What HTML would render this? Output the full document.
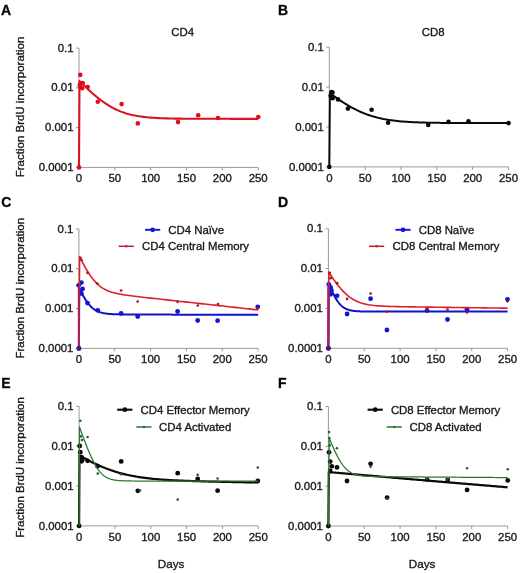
<!DOCTYPE html>
<html><head><meta charset="utf-8"><style>
html,body{margin:0;padding:0;background:#fff;}
svg{display:block;filter:blur(0.3px);}
text{stroke:#222;stroke-width:0.35px;}
</style></head><body>
<svg width="520" height="573" viewBox="0 0 520 573" font-family="&quot;Liberation Sans&quot;, sans-serif" font-size="11.4" fill="#151515">
<path d="M79 48.1V167.4H258.2" stroke="#9a9a9a" stroke-width="1" fill="none"/>
<path d="M76 167.4H79M76 127.63H79M76 87.87H79M76 48.1H79M114.84 167.4V170.4M150.68 167.4V170.4M186.52 167.4V170.4M222.36 167.4V170.4M258.2 167.4V170.4" stroke="#9a9a9a" stroke-width="1" fill="none"/>
<text x="73.5" y="171" text-anchor="end">0.0001</text>
<text x="73.5" y="131.23" text-anchor="end">0.001</text>
<text x="73.5" y="91.47" text-anchor="end">0.01</text>
<text x="73.5" y="51.7" text-anchor="end">0.1</text>
<text x="79" y="182.1" text-anchor="middle">0</text>
<text x="114.84" y="182.1" text-anchor="middle">50</text>
<text x="150.68" y="182.1" text-anchor="middle">100</text>
<text x="186.52" y="182.1" text-anchor="middle">150</text>
<text x="222.36" y="182.1" text-anchor="middle">200</text>
<text x="258.2" y="182.1" text-anchor="middle">250</text>
<path d="M329.3 47.2V166.9H508.5" stroke="#9a9a9a" stroke-width="1" fill="none"/>
<path d="M326.3 166.9H329.3M326.3 127H329.3M326.3 87.1H329.3M326.3 47.2H329.3M365.14 166.9V169.9M400.98 166.9V169.9M436.82 166.9V169.9M472.66 166.9V169.9M508.5 166.9V169.9" stroke="#9a9a9a" stroke-width="1" fill="none"/>
<text x="323.8" y="170.5" text-anchor="end">0.0001</text>
<text x="323.8" y="130.6" text-anchor="end">0.001</text>
<text x="323.8" y="90.7" text-anchor="end">0.01</text>
<text x="323.8" y="50.8" text-anchor="end">0.1</text>
<text x="329.3" y="181.6" text-anchor="middle">0</text>
<text x="365.14" y="181.6" text-anchor="middle">50</text>
<text x="400.98" y="181.6" text-anchor="middle">100</text>
<text x="436.82" y="181.6" text-anchor="middle">150</text>
<text x="472.66" y="181.6" text-anchor="middle">200</text>
<text x="508.5" y="181.6" text-anchor="middle">250</text>
<path d="M78.9 228.9V348.4H258.1" stroke="#9a9a9a" stroke-width="1" fill="none"/>
<path d="M75.9 348.4H78.9M75.9 308.57H78.9M75.9 268.73H78.9M75.9 228.9H78.9M114.74 348.4V351.4M150.58 348.4V351.4M186.42 348.4V351.4M222.26 348.4V351.4M258.1 348.4V351.4" stroke="#9a9a9a" stroke-width="1" fill="none"/>
<text x="73.4" y="352" text-anchor="end">0.0001</text>
<text x="73.4" y="312.17" text-anchor="end">0.001</text>
<text x="73.4" y="272.33" text-anchor="end">0.01</text>
<text x="73.4" y="232.5" text-anchor="end">0.1</text>
<text x="78.9" y="363.1" text-anchor="middle">0</text>
<text x="114.74" y="363.1" text-anchor="middle">50</text>
<text x="150.58" y="363.1" text-anchor="middle">100</text>
<text x="186.42" y="363.1" text-anchor="middle">150</text>
<text x="222.26" y="363.1" text-anchor="middle">200</text>
<text x="258.1" y="363.1" text-anchor="middle">250</text>
<path d="M328.4 228.8V348.3H507.6" stroke="#9a9a9a" stroke-width="1" fill="none"/>
<path d="M325.4 348.3H328.4M325.4 308.47H328.4M325.4 268.63H328.4M325.4 228.8H328.4M364.24 348.3V351.3M400.08 348.3V351.3M435.92 348.3V351.3M471.76 348.3V351.3M507.6 348.3V351.3" stroke="#9a9a9a" stroke-width="1" fill="none"/>
<text x="322.9" y="351.9" text-anchor="end">0.0001</text>
<text x="322.9" y="312.07" text-anchor="end">0.001</text>
<text x="322.9" y="272.23" text-anchor="end">0.01</text>
<text x="322.9" y="232.4" text-anchor="end">0.1</text>
<text x="328.4" y="363" text-anchor="middle">0</text>
<text x="364.24" y="363" text-anchor="middle">50</text>
<text x="400.08" y="363" text-anchor="middle">100</text>
<text x="435.92" y="363" text-anchor="middle">150</text>
<text x="471.76" y="363" text-anchor="middle">200</text>
<text x="507.6" y="363" text-anchor="middle">250</text>
<path d="M79.1 406.4V525.9H258.3" stroke="#9a9a9a" stroke-width="1" fill="none"/>
<path d="M76.1 525.9H79.1M76.1 486.07H79.1M76.1 446.23H79.1M76.1 406.4H79.1M114.94 525.9V528.9M150.78 525.9V528.9M186.62 525.9V528.9M222.46 525.9V528.9M258.3 525.9V528.9" stroke="#9a9a9a" stroke-width="1" fill="none"/>
<text x="73.6" y="529.5" text-anchor="end">0.0001</text>
<text x="73.6" y="489.67" text-anchor="end">0.001</text>
<text x="73.6" y="449.83" text-anchor="end">0.01</text>
<text x="73.6" y="410" text-anchor="end">0.1</text>
<text x="79.1" y="540.6" text-anchor="middle">0</text>
<text x="114.94" y="540.6" text-anchor="middle">50</text>
<text x="150.78" y="540.6" text-anchor="middle">100</text>
<text x="186.62" y="540.6" text-anchor="middle">150</text>
<text x="222.46" y="540.6" text-anchor="middle">200</text>
<text x="258.3" y="540.6" text-anchor="middle">250</text>
<path d="M328.4 406.5V526H507.6" stroke="#9a9a9a" stroke-width="1" fill="none"/>
<path d="M325.4 526H328.4M325.4 486.17H328.4M325.4 446.33H328.4M325.4 406.5H328.4M364.24 526V529M400.08 526V529M435.92 526V529M471.76 526V529M507.6 526V529" stroke="#9a9a9a" stroke-width="1" fill="none"/>
<text x="322.9" y="529.6" text-anchor="end">0.0001</text>
<text x="322.9" y="489.77" text-anchor="end">0.001</text>
<text x="322.9" y="449.93" text-anchor="end">0.01</text>
<text x="322.9" y="410.1" text-anchor="end">0.1</text>
<text x="328.4" y="540.7" text-anchor="middle">0</text>
<text x="364.24" y="540.7" text-anchor="middle">50</text>
<text x="400.08" y="540.7" text-anchor="middle">100</text>
<text x="435.92" y="540.7" text-anchor="middle">150</text>
<text x="471.76" y="540.7" text-anchor="middle">200</text>
<text x="507.6" y="540.7" text-anchor="middle">250</text>
<text x="1" y="15" font-size="14" font-weight="bold" fill="#000">A</text>
<text x="278.1" y="15" font-size="14" font-weight="bold" fill="#000">B</text>
<text x="1.2" y="207.2" font-size="14" font-weight="bold" fill="#000">C</text>
<text x="278.1" y="207" font-size="14" font-weight="bold" fill="#000">D</text>
<text x="1.2" y="388.1" font-size="14" font-weight="bold" fill="#000">E</text>
<text x="278.1" y="388" font-size="14" font-weight="bold" fill="#000">F</text>
<text x="182.7" y="35.9" text-anchor="middle">CD4</text>
<text x="433.1" y="35.9" text-anchor="middle">CD8</text>
<text transform="translate(23.95 106.95) rotate(-90)" text-anchor="middle" font-size="11.5">Fraction BrdU incorporation</text>
<text transform="translate(23.95 288.2) rotate(-90)" text-anchor="middle" font-size="11.5">Fraction BrdU incorporation</text>
<text transform="translate(23.95 467.45) rotate(-90)" text-anchor="middle" font-size="11.5">Fraction BrdU incorporation</text>
<text x="171.1" y="568.3" text-anchor="middle" font-size="11.7">Days</text>
<text x="422.1" y="568.3" text-anchor="middle" font-size="11.7">Days</text>
<path d="M79 167.4 L79.5 80.94 L80 81.45 L80.5 81.95 L81 82.45 L81.5 82.95 L82 83.44 L82.5 83.94 L83 84.43 L83.5 84.92 L84 85.41 L84.5 85.89 L85 86.38 L85.5 86.86 L86 87.33 L86.5 87.81 L87 88.28 L87.5 88.75 L88 89.22 L88.5 89.68 L89 90.15 L89.5 90.61 L90 91.06 L90.5 91.51 L91 91.96 L91.5 92.41 L92 92.86 L92.5 93.3 L93 93.73 L93.5 94.17 L94 94.6 L94.5 95.02 L95 95.45 L95.5 95.87 L96 96.28 L96.5 96.7 L97 97.1 L97.5 97.51 L98 97.91 L98.5 98.31 L99 98.7 L99.5 99.09 L100 99.48 L100.5 99.86 L101 100.23 L101.5 100.61 L102 100.97 L102.5 101.34 L103 101.7 L103.5 102.05 L104 102.4 L104.5 102.75 L105 103.09 L105.5 103.43 L106 103.76 L106.5 104.09 L107 104.42 L107.5 104.74 L108 105.05 L108.5 105.36 L109 105.67 L109.5 105.97 L110 106.26 L110.5 106.55 L111 106.84 L111.5 107.12 L112 107.4 L112.5 107.67 L113 107.94 L113.5 108.21 L114 108.46 L114.5 108.72 L115 108.97 L115.5 109.21 L116 109.45 L116.5 109.69 L117 109.92 L117.5 110.15 L118 110.37 L118.5 110.59 L119 110.8 L121 111.61 L123 112.36 L125 113.03 L127 113.65 L129 114.21 L131 114.72 L133 115.18 L135 115.59 L137 115.96 L139 116.29 L141 116.58 L143 116.84 L145 117.08 L147 117.28 L149 117.47 L151 117.63 L153 117.77 L155 117.9 L157 118.01 L159 118.11 L161 118.2 L163 118.28 L165 118.34 L167 118.4 L169 118.46 L171 118.5 L173 118.54 L175 118.58 L177 118.61 L179 118.64 L181 118.66 L183 118.68 L185 118.7 L187 118.72 L189 118.73 L191 118.74 L193 118.75 L195 118.76 L197 118.77 L199 118.78 L201 118.79 L203 118.79 L205 118.8 L207 118.8 L209 118.8 L211 118.81 L213 118.81 L215 118.81 L217 118.82 L219 118.82 L221 118.82 L223 118.82 L225 118.82 L227 118.82 L229 118.82 L231 118.83 L233 118.83 L235 118.83 L237 118.83 L239 118.83 L241 118.83 L243 118.83 L245 118.83 L247 118.83 L249 118.83 L251 118.83 L253 118.83 L255 118.83 L257 118.83 L258.2 118.83" stroke="#d81422" stroke-width="2.1" fill="none" stroke-linejoin="round"/>
<circle cx="79" cy="167.4" r="2.3" fill="#e50b1b"/>
<circle cx="80.3" cy="74.9" r="2.3" fill="#e50b1b"/>
<circle cx="79.8" cy="84.7" r="2.3" fill="#e50b1b"/>
<circle cx="82.7" cy="83" r="2.3" fill="#e50b1b"/>
<circle cx="82.1" cy="88.2" r="2.3" fill="#e50b1b"/>
<circle cx="80" cy="86.5" r="2.3" fill="#e50b1b"/>
<circle cx="87.7" cy="87" r="2.3" fill="#e50b1b"/>
<circle cx="97.8" cy="101.8" r="2.3" fill="#e50b1b"/>
<circle cx="121.6" cy="104.1" r="2.3" fill="#e50b1b"/>
<circle cx="137.8" cy="123.4" r="2.3" fill="#e50b1b"/>
<circle cx="178" cy="122.1" r="2.3" fill="#e50b1b"/>
<circle cx="198.2" cy="115.3" r="2.3" fill="#e50b1b"/>
<circle cx="218" cy="118" r="2.3" fill="#e50b1b"/>
<circle cx="258.3" cy="117" r="2.3" fill="#e50b1b"/>
<path d="M329.3 166.9 L329.9 93.01 L330.4 93.39 L330.9 93.77 L331.4 94.14 L331.9 94.52 L332.4 94.89 L332.9 95.26 L333.4 95.63 L333.9 96 L334.4 96.36 L334.9 96.72 L335.4 97.08 L335.9 97.44 L336.4 97.8 L336.9 98.15 L337.4 98.5 L337.9 98.85 L338.4 99.2 L338.9 99.54 L339.4 99.88 L339.9 100.22 L340.4 100.56 L340.9 100.89 L341.4 101.23 L341.9 101.56 L342.4 101.88 L342.9 102.21 L343.4 102.53 L343.9 102.85 L344.4 103.17 L344.9 103.48 L345.4 103.79 L345.9 104.1 L346.4 104.41 L346.9 104.71 L347.4 105.01 L347.9 105.31 L348.4 105.61 L348.9 105.9 L349.4 106.19 L349.9 106.47 L350.4 106.76 L350.9 107.04 L351.4 107.32 L351.9 107.59 L352.4 107.86 L352.9 108.13 L353.4 108.4 L353.9 108.66 L354.4 108.92 L354.9 109.18 L355.4 109.43 L355.9 109.68 L356.4 109.93 L356.9 110.17 L357.4 110.41 L357.9 110.65 L358.4 110.89 L358.9 111.12 L359.4 111.35 L359.9 111.58 L360.4 111.8 L360.9 112.02 L361.4 112.24 L361.9 112.45 L362.4 112.66 L362.9 112.87 L363.4 113.07 L363.9 113.27 L364.4 113.47 L364.9 113.67 L365.4 113.86 L365.9 114.05 L366.4 114.24 L366.9 114.42 L367.4 114.6 L367.9 114.78 L368.4 114.95 L368.9 115.13 L369.3 115.26 L371.3 115.91 L373.3 116.52 L375.3 117.08 L377.3 117.6 L379.3 118.09 L381.3 118.53 L383.3 118.95 L385.3 119.32 L387.3 119.67 L389.3 119.99 L391.3 120.28 L393.3 120.55 L395.3 120.79 L397.3 121.01 L399.3 121.21 L401.3 121.39 L403.3 121.56 L405.3 121.71 L407.3 121.84 L409.3 121.97 L411.3 122.08 L413.3 122.18 L415.3 122.27 L417.3 122.35 L419.3 122.43 L421.3 122.5 L423.3 122.56 L425.3 122.61 L427.3 122.66 L429.3 122.7 L431.3 122.74 L433.3 122.78 L435.3 122.81 L437.3 122.84 L439.3 122.87 L441.3 122.89 L443.3 122.91 L445.3 122.93 L447.3 122.95 L449.3 122.96 L451.3 122.98 L453.3 122.99 L455.3 123 L457.3 123.01 L459.3 123.02 L461.3 123.03 L463.3 123.04 L465.3 123.04 L467.3 123.05 L469.3 123.06 L471.3 123.06 L473.3 123.06 L475.3 123.07 L477.3 123.07 L479.3 123.08 L481.3 123.08 L483.3 123.08 L485.3 123.08 L487.3 123.08 L489.3 123.09 L491.3 123.09 L493.3 123.09 L495.3 123.09 L497.3 123.09 L499.3 123.09 L501.3 123.09 L503.3 123.1 L505.3 123.1 L507.3 123.1 L508.5 123.1" stroke="#0a0a0a" stroke-width="2" fill="none" stroke-linejoin="round"/>
<circle cx="329.3" cy="166.9" r="2.3" fill="#0a0a0a"/>
<circle cx="331.5" cy="92" r="2.3" fill="#0a0a0a"/>
<circle cx="330.6" cy="95.8" r="2.3" fill="#0a0a0a"/>
<circle cx="332.5" cy="92.5" r="2.3" fill="#0a0a0a"/>
<circle cx="332.6" cy="98.3" r="2.3" fill="#0a0a0a"/>
<circle cx="338" cy="99.4" r="2.3" fill="#0a0a0a"/>
<circle cx="347.9" cy="108.6" r="2.3" fill="#0a0a0a"/>
<circle cx="371.6" cy="109.7" r="2.3" fill="#0a0a0a"/>
<circle cx="388.1" cy="122.8" r="2.3" fill="#0a0a0a"/>
<circle cx="428.2" cy="124.9" r="2.3" fill="#0a0a0a"/>
<circle cx="448.5" cy="121.9" r="2.3" fill="#0a0a0a"/>
<circle cx="468.5" cy="121.2" r="2.3" fill="#0a0a0a"/>
<circle cx="508.6" cy="123.1" r="2.3" fill="#0a0a0a"/>
<path d="M78.9 348.4 L79.3 288.06 L79.8 289.12 L80.3 290.16 L80.8 291.19 L81.3 292.19 L81.8 293.17 L82.3 294.13 L82.8 295.06 L83.3 295.97 L83.8 296.86 L84.3 297.72 L84.8 298.55 L85.3 299.36 L85.8 300.15 L86.3 300.9 L86.8 301.63 L87.3 302.33 L87.8 303.01 L88.3 303.66 L88.8 304.28 L89.3 304.87 L89.8 305.44 L90.3 305.99 L90.8 306.5 L91.3 306.99 L91.8 307.46 L92.3 307.9 L92.8 308.32 L93.3 308.72 L93.8 309.09 L94.3 309.45 L94.8 309.78 L95.3 310.09 L95.8 310.39 L96.3 310.67 L96.8 310.93 L97.3 311.17 L97.8 311.4 L98.3 311.61 L98.8 311.81 L99.3 312 L99.8 312.18 L100.3 312.34 L100.8 312.49 L101.3 312.63 L101.8 312.77 L102.3 312.89 L102.8 313 L103.3 313.11 L103.8 313.21 L104.3 313.3 L104.8 313.39 L105.3 313.47 L105.8 313.54 L106.3 313.61 L106.8 313.67 L107.3 313.73 L107.8 313.79 L108.3 313.84 L108.8 313.89 L109.3 313.93 L109.8 313.97 L110.3 314.01 L110.8 314.04 L111.3 314.08 L111.8 314.11 L112.3 314.14 L112.8 314.16 L113.3 314.19 L113.8 314.21 L114.3 314.23 L114.8 314.25 L115.3 314.27 L115.8 314.29 L116.3 314.3 L116.8 314.32 L117.3 314.33 L117.8 314.34 L118.3 314.35 L118.8 314.37 L118.9 314.37 L120.9 314.4 L122.9 314.43 L124.9 314.45 L126.9 314.47 L128.9 314.49 L130.9 314.5 L132.9 314.51 L134.9 314.52 L136.9 314.53 L138.9 314.53 L140.9 314.54 L142.9 314.55 L144.9 314.55 L146.9 314.56 L148.9 314.56 L150.9 314.57 L152.9 314.58 L154.9 314.58 L156.9 314.59 L158.9 314.59 L160.9 314.6 L162.9 314.6 L164.9 314.61 L166.9 314.61 L168.9 314.62 L170.9 314.62 L172.9 314.63 L174.9 314.64 L176.9 314.64 L178.9 314.65 L180.9 314.65 L182.9 314.66 L184.9 314.66 L186.9 314.67 L188.9 314.67 L190.9 314.68 L192.9 314.68 L194.9 314.69 L196.9 314.7 L198.9 314.7 L200.9 314.71 L202.9 314.71 L204.9 314.72 L206.9 314.72 L208.9 314.73 L210.9 314.73 L212.9 314.74 L214.9 314.74 L216.9 314.75 L218.9 314.75 L220.9 314.76 L222.9 314.77 L224.9 314.77 L226.9 314.78 L228.9 314.78 L230.9 314.79 L232.9 314.79 L234.9 314.8 L236.9 314.8 L238.9 314.81 L240.9 314.81 L242.9 314.82 L244.9 314.82 L246.9 314.83 L248.9 314.84 L250.9 314.84 L252.9 314.85 L254.9 314.85 L256.9 314.86 L258.1 314.86" stroke="#1212c8" stroke-width="2.0" fill="none" stroke-linejoin="round"/>
<circle cx="78.9" cy="348.4" r="2.4" fill="#1414d6"/>
<circle cx="78.6" cy="285.3" r="2.4" fill="#1414d6"/>
<circle cx="81.4" cy="282.6" r="2.4" fill="#1414d6"/>
<circle cx="82.6" cy="289" r="2.4" fill="#1414d6"/>
<circle cx="81.4" cy="293.6" r="2.4" fill="#1414d6"/>
<circle cx="87.5" cy="303.1" r="2.4" fill="#1414d6"/>
<circle cx="97.7" cy="310.3" r="2.4" fill="#1414d6"/>
<circle cx="121.1" cy="313.4" r="2.4" fill="#1414d6"/>
<circle cx="137.7" cy="316.6" r="2.4" fill="#1414d6"/>
<circle cx="177.6" cy="311.5" r="2.4" fill="#1414d6"/>
<circle cx="197.7" cy="320.5" r="2.4" fill="#1414d6"/>
<circle cx="217.6" cy="320.7" r="2.4" fill="#1414d6"/>
<circle cx="257.7" cy="306.8" r="2.4" fill="#1414d6"/>
<path d="M78.9 348.4 L79.6 256.79 L80.1 257.78 L80.6 258.77 L81.1 259.74 L81.6 260.71 L82.1 261.66 L82.6 262.61 L83.1 263.54 L83.6 264.46 L84.1 265.37 L84.6 266.27 L85.1 267.15 L85.6 268.03 L86.1 268.88 L86.6 269.73 L87.1 270.55 L87.6 271.37 L88.1 272.17 L88.6 272.95 L89.1 273.72 L89.6 274.47 L90.1 275.2 L90.6 275.92 L91.1 276.62 L91.6 277.31 L92.1 277.97 L92.6 278.62 L93.1 279.25 L93.6 279.87 L94.1 280.46 L94.6 281.04 L95.1 281.6 L95.6 282.15 L96.1 282.67 L96.6 283.18 L97.1 283.68 L97.6 284.15 L98.1 284.61 L98.6 285.05 L99.1 285.48 L99.6 285.89 L100.1 286.29 L100.6 286.67 L101.1 287.04 L101.6 287.39 L102.1 287.73 L102.6 288.06 L103.1 288.37 L103.6 288.67 L104.1 288.96 L104.6 289.24 L105.1 289.51 L105.6 289.76 L106.1 290.01 L106.6 290.24 L107.1 290.47 L107.6 290.69 L108.1 290.9 L108.6 291.1 L109.1 291.29 L109.6 291.48 L110.1 291.65 L110.6 291.82 L111.1 291.99 L111.6 292.15 L112.1 292.3 L112.6 292.45 L113.1 292.59 L113.6 292.73 L114.1 292.86 L114.6 292.99 L115.1 293.11 L115.6 293.23 L116.1 293.35 L116.6 293.46 L117.1 293.57 L117.6 293.67 L118.1 293.78 L118.6 293.88 L118.9 293.93 L120.9 294.3 L122.9 294.64 L124.9 294.95 L126.9 295.24 L128.9 295.52 L130.9 295.78 L132.9 296.03 L134.9 296.28 L136.9 296.52 L138.9 296.75 L140.9 296.99 L142.9 297.22 L144.9 297.44 L146.9 297.67 L148.9 297.89 L150.9 298.12 L152.9 298.34 L154.9 298.56 L156.9 298.78 L158.9 299 L160.9 299.23 L162.9 299.45 L164.9 299.67 L166.9 299.89 L168.9 300.11 L170.9 300.33 L172.9 300.55 L174.9 300.77 L176.9 300.99 L178.9 301.21 L180.9 301.43 L182.9 301.65 L184.9 301.87 L186.9 302.09 L188.9 302.31 L190.9 302.53 L192.9 302.75 L194.9 302.97 L196.9 303.19 L198.9 303.41 L200.9 303.63 L202.9 303.85 L204.9 304.07 L206.9 304.29 L208.9 304.51 L210.9 304.73 L212.9 304.95 L214.9 305.17 L216.9 305.39 L218.9 305.61 L220.9 305.83 L222.9 306.05 L224.9 306.27 L226.9 306.49 L228.9 306.71 L230.9 306.93 L232.9 307.15 L234.9 307.37 L236.9 307.59 L238.9 307.81 L240.9 308.03 L242.9 308.25 L244.9 308.48 L246.9 308.7 L248.9 308.92 L250.9 309.14 L252.9 309.36 L254.9 309.58 L256.9 309.8 L258.1 309.93" stroke="#da2029" stroke-width="1.6" fill="none" stroke-linejoin="round"/>
<circle cx="80.4" cy="257.8" r="1.35" fill="#b01020"/>
<circle cx="81.5" cy="260" r="1.35" fill="#b01020"/>
<circle cx="87.5" cy="272.8" r="1.35" fill="#b01020"/>
<circle cx="97.2" cy="283.5" r="1.35" fill="#b01020"/>
<circle cx="121.1" cy="290.5" r="1.35" fill="#b01020"/>
<circle cx="137.7" cy="301.5" r="1.35" fill="#b01020"/>
<circle cx="177.6" cy="301.8" r="1.35" fill="#b01020"/>
<circle cx="197.8" cy="305.5" r="1.35" fill="#b01020"/>
<circle cx="218" cy="304" r="1.35" fill="#b01020"/>
<circle cx="257.8" cy="308.5" r="1.35" fill="#b01020"/>
<path d="M328.4 348.3 L328.8 283.27 L329.3 284.55 L329.8 285.8 L330.3 287.02 L330.8 288.22 L331.3 289.38 L331.8 290.52 L332.3 291.63 L332.8 292.71 L333.3 293.75 L333.8 294.76 L334.3 295.73 L334.8 296.67 L335.3 297.58 L335.8 298.45 L336.3 299.28 L336.8 300.07 L337.3 300.83 L337.8 301.55 L338.3 302.24 L338.8 302.89 L339.3 303.5 L339.8 304.08 L340.3 304.62 L340.8 305.14 L341.3 305.62 L341.8 306.07 L342.3 306.49 L342.8 306.89 L343.3 307.25 L343.8 307.6 L344.3 307.91 L344.8 308.21 L345.3 308.48 L345.8 308.74 L346.3 308.97 L346.8 309.19 L347.3 309.39 L347.8 309.57 L348.3 309.74 L348.8 309.9 L349.3 310.04 L349.8 310.17 L350.3 310.29 L350.8 310.4 L351.3 310.51 L351.8 310.6 L352.3 310.69 L352.8 310.76 L353.3 310.84 L353.8 310.9 L354.3 310.96 L354.8 311.02 L355.3 311.07 L355.8 311.11 L356.3 311.16 L356.8 311.2 L357.3 311.23 L357.8 311.26 L358.3 311.29 L358.8 311.32 L359.3 311.34 L359.8 311.37 L360.3 311.39 L360.8 311.41 L361.3 311.42 L361.8 311.44 L362.3 311.45 L362.8 311.47 L363.3 311.48 L363.8 311.49 L364.3 311.5 L364.8 311.51 L365.3 311.52 L365.8 311.52 L366.3 311.53 L366.8 311.54 L367.3 311.54 L367.8 311.55 L368.3 311.55 L368.4 311.55 L370.4 311.57 L372.4 311.58 L374.4 311.58 L376.4 311.59 L378.4 311.59 L380.4 311.6 L382.4 311.6 L384.4 311.6 L386.4 311.6 L388.4 311.6 L390.4 311.6 L392.4 311.6 L394.4 311.6 L396.4 311.6 L398.4 311.6 L400.4 311.6 L402.4 311.6 L404.4 311.6 L406.4 311.6 L408.4 311.6 L410.4 311.6 L412.4 311.6 L414.4 311.6 L416.4 311.6 L418.4 311.6 L420.4 311.6 L422.4 311.6 L424.4 311.6 L426.4 311.6 L428.4 311.6 L430.4 311.6 L432.4 311.6 L434.4 311.6 L436.4 311.6 L438.4 311.6 L440.4 311.6 L442.4 311.6 L444.4 311.6 L446.4 311.6 L448.4 311.6 L450.4 311.6 L452.4 311.6 L454.4 311.6 L456.4 311.6 L458.4 311.6 L460.4 311.6 L462.4 311.6 L464.4 311.6 L466.4 311.6 L468.4 311.6 L470.4 311.6 L472.4 311.6 L474.4 311.6 L476.4 311.6 L478.4 311.6 L480.4 311.6 L482.4 311.6 L484.4 311.6 L486.4 311.6 L488.4 311.6 L490.4 311.6 L492.4 311.6 L494.4 311.6 L496.4 311.6 L498.4 311.6 L500.4 311.6 L502.4 311.6 L504.4 311.6 L506.4 311.6 L507.6 311.6" stroke="#1212c8" stroke-width="2.0" fill="none" stroke-linejoin="round"/>
<circle cx="328.4" cy="348.3" r="2.4" fill="#1414d6"/>
<circle cx="328.8" cy="284.3" r="2.4" fill="#1414d6"/>
<circle cx="330.6" cy="287.4" r="2.4" fill="#1414d6"/>
<circle cx="331.4" cy="290.5" r="2.4" fill="#1414d6"/>
<circle cx="330.6" cy="294.3" r="2.4" fill="#1414d6"/>
<circle cx="337.1" cy="295.8" r="2.4" fill="#1414d6"/>
<circle cx="347.1" cy="314" r="2.4" fill="#1414d6"/>
<circle cx="370.6" cy="298.7" r="2.4" fill="#1414d6"/>
<circle cx="386.9" cy="330" r="2.4" fill="#1414d6"/>
<circle cx="427" cy="310.5" r="2.4" fill="#1414d6"/>
<circle cx="447.5" cy="319.5" r="2.4" fill="#1414d6"/>
<circle cx="467" cy="309.3" r="2.4" fill="#1414d6"/>
<circle cx="507.5" cy="299.3" r="2.4" fill="#1414d6"/>
<path d="M328.4 348.3 L328.8 272.19 L329.3 272.97 L329.8 273.74 L330.3 274.5 L330.8 275.26 L331.3 276.01 L331.8 276.75 L332.3 277.48 L332.8 278.21 L333.3 278.93 L333.8 279.65 L334.3 280.35 L334.8 281.05 L335.3 281.74 L335.8 282.42 L336.3 283.09 L336.8 283.75 L337.3 284.4 L337.8 285.04 L338.3 285.67 L338.8 286.3 L339.3 286.91 L339.8 287.51 L340.3 288.1 L340.8 288.68 L341.3 289.25 L341.8 289.81 L342.3 290.36 L342.8 290.89 L343.3 291.42 L343.8 291.93 L344.3 292.43 L344.8 292.92 L345.3 293.4 L345.8 293.87 L346.3 294.32 L346.8 294.77 L347.3 295.2 L347.8 295.62 L348.3 296.03 L348.8 296.42 L349.3 296.81 L349.8 297.18 L350.3 297.55 L350.8 297.9 L351.3 298.24 L351.8 298.57 L352.3 298.89 L352.8 299.19 L353.3 299.49 L353.8 299.78 L354.3 300.06 L354.8 300.33 L355.3 300.59 L355.8 300.83 L356.3 301.07 L356.8 301.31 L357.3 301.53 L357.8 301.74 L358.3 301.95 L358.8 302.15 L359.3 302.34 L359.8 302.52 L360.3 302.7 L360.8 302.86 L361.3 303.03 L361.8 303.18 L362.3 303.33 L362.8 303.47 L363.3 303.61 L363.8 303.74 L364.3 303.87 L364.8 303.99 L365.3 304.1 L365.8 304.21 L366.3 304.32 L366.8 304.42 L367.3 304.52 L367.8 304.61 L368.3 304.7 L368.4 304.72 L370.4 305.03 L372.4 305.3 L374.4 305.52 L376.4 305.71 L378.4 305.87 L380.4 306 L382.4 306.12 L384.4 306.21 L386.4 306.3 L388.4 306.37 L390.4 306.44 L392.4 306.5 L394.4 306.55 L396.4 306.6 L398.4 306.64 L400.4 306.68 L402.4 306.72 L404.4 306.76 L406.4 306.79 L408.4 306.83 L410.4 306.86 L412.4 306.89 L414.4 306.92 L416.4 306.95 L418.4 306.98 L420.4 307.01 L422.4 307.03 L424.4 307.06 L426.4 307.09 L428.4 307.12 L430.4 307.14 L432.4 307.17 L434.4 307.2 L436.4 307.23 L438.4 307.25 L440.4 307.28 L442.4 307.31 L444.4 307.34 L446.4 307.36 L448.4 307.39 L450.4 307.42 L452.4 307.44 L454.4 307.47 L456.4 307.5 L458.4 307.52 L460.4 307.55 L462.4 307.58 L464.4 307.61 L466.4 307.63 L468.4 307.66 L470.4 307.69 L472.4 307.71 L474.4 307.74 L476.4 307.77 L478.4 307.79 L480.4 307.82 L482.4 307.85 L484.4 307.87 L486.4 307.9 L488.4 307.93 L490.4 307.96 L492.4 307.98 L494.4 308.01 L496.4 308.04 L498.4 308.06 L500.4 308.09 L502.4 308.12 L504.4 308.14 L506.4 308.17 L507.6 308.19" stroke="#da2029" stroke-width="1.6" fill="none" stroke-linejoin="round"/>
<circle cx="329.8" cy="272.8" r="1.35" fill="#b01020"/>
<circle cx="330.6" cy="278.2" r="1.35" fill="#b01020"/>
<circle cx="337.1" cy="283.2" r="1.35" fill="#b01020"/>
<circle cx="347.1" cy="298.9" r="1.35" fill="#b01020"/>
<circle cx="370.6" cy="293.5" r="1.35" fill="#b01020"/>
<circle cx="386.8" cy="311.5" r="1.35" fill="#b01020"/>
<circle cx="427" cy="309.5" r="1.35" fill="#b01020"/>
<circle cx="447.5" cy="309.5" r="1.35" fill="#b01020"/>
<circle cx="467" cy="312.5" r="1.35" fill="#b01020"/>
<circle cx="507.5" cy="301.3" r="1.35" fill="#b01020"/>
<path d="M78.9 348.4V286" stroke="#a8205c" stroke-width="2.2"/>
<circle cx="78.9" cy="348.4" r="2.4" fill="#3a1a8c"/>
<path d="M328.4 348.3V284" stroke="#a8205c" stroke-width="2.2"/>
<circle cx="328.4" cy="348.3" r="2.4" fill="#3a1a8c"/>
<path d="M79.1 525.9 L79.5 455.35 L80 455.64 L80.5 455.93 L81 456.22 L81.5 456.51 L82 456.8 L82.5 457.08 L83 457.36 L83.5 457.65 L84 457.93 L84.5 458.21 L85 458.48 L85.5 458.76 L86 459.03 L86.5 459.3 L87 459.57 L87.5 459.84 L88 460.11 L88.5 460.37 L89 460.63 L89.5 460.89 L90 461.15 L90.5 461.41 L91 461.67 L91.5 461.92 L92 462.17 L92.5 462.42 L93 462.67 L93.5 462.91 L94 463.16 L94.5 463.4 L95 463.64 L95.5 463.88 L96 464.11 L96.5 464.34 L97 464.58 L97.5 464.81 L98 465.03 L98.5 465.26 L99 465.48 L99.5 465.7 L100 465.92 L100.5 466.14 L101 466.36 L101.5 466.57 L102 466.78 L102.5 466.99 L103 467.2 L103.5 467.4 L104 467.61 L104.5 467.81 L105 468.01 L105.5 468.2 L106 468.4 L106.5 468.59 L107 468.78 L107.5 468.97 L108 469.15 L108.5 469.34 L109 469.52 L109.5 469.7 L110 469.88 L110.5 470.06 L111 470.23 L111.5 470.4 L112 470.57 L112.5 470.74 L113 470.9 L113.5 471.07 L114 471.23 L114.5 471.39 L115 471.55 L115.5 471.7 L116 471.86 L116.5 472.01 L117 472.16 L117.5 472.31 L118 472.45 L118.5 472.6 L119 472.74 L119.1 472.77 L121.1 473.32 L123.1 473.84 L125.1 474.33 L127.1 474.79 L129.1 475.23 L131.1 475.64 L133.1 476.03 L135.1 476.39 L137.1 476.73 L139.1 477.05 L141.1 477.35 L143.1 477.63 L145.1 477.9 L147.1 478.15 L149.1 478.38 L151.1 478.6 L153.1 478.8 L155.1 478.99 L157.1 479.17 L159.1 479.34 L161.1 479.5 L163.1 479.64 L165.1 479.78 L167.1 479.91 L169.1 480.04 L171.1 480.15 L173.1 480.26 L175.1 480.36 L177.1 480.46 L179.1 480.55 L181.1 480.64 L183.1 480.72 L185.1 480.8 L187.1 480.88 L189.1 480.95 L191.1 481.02 L193.1 481.09 L195.1 481.15 L197.1 481.21 L199.1 481.27 L201.1 481.32 L203.1 481.38 L205.1 481.43 L207.1 481.48 L209.1 481.53 L211.1 481.58 L213.1 481.63 L215.1 481.67 L217.1 481.72 L219.1 481.76 L221.1 481.81 L223.1 481.85 L225.1 481.89 L227.1 481.93 L229.1 481.97 L231.1 482.01 L233.1 482.05 L235.1 482.09 L237.1 482.13 L239.1 482.17 L241.1 482.2 L243.1 482.24 L245.1 482.28 L247.1 482.31 L249.1 482.35 L251.1 482.39 L253.1 482.42 L255.1 482.46 L257.1 482.49 L258.3 482.51" stroke="#0a0a0a" stroke-width="2.2" fill="none" stroke-linejoin="round"/>
<circle cx="79.1" cy="525.9" r="2.4" fill="#0a0a0a"/>
<circle cx="79.7" cy="445.9" r="2.4" fill="#0a0a0a"/>
<circle cx="80.3" cy="452.2" r="2.4" fill="#0a0a0a"/>
<circle cx="81.5" cy="457.1" r="2.4" fill="#0a0a0a"/>
<circle cx="81.5" cy="461.3" r="2.4" fill="#0a0a0a"/>
<circle cx="82.2" cy="460.3" r="2.4" fill="#0a0a0a"/>
<circle cx="87.6" cy="460.8" r="2.4" fill="#0a0a0a"/>
<circle cx="97.6" cy="466.2" r="2.4" fill="#0a0a0a"/>
<circle cx="121.2" cy="461.4" r="2.4" fill="#0a0a0a"/>
<circle cx="137.8" cy="490.8" r="2.4" fill="#0a0a0a"/>
<circle cx="177.7" cy="473.2" r="2.4" fill="#0a0a0a"/>
<circle cx="197.7" cy="479" r="2.4" fill="#0a0a0a"/>
<circle cx="217.6" cy="490.7" r="2.4" fill="#0a0a0a"/>
<circle cx="257.8" cy="480.9" r="2.4" fill="#0a0a0a"/>
<path d="M79.1 525.9 L79.5 426.95 L80 428.34 L80.5 429.72 L81 431.1 L81.5 432.47 L82 433.84 L82.5 435.19 L83 436.54 L83.5 437.88 L84 439.21 L84.5 440.53 L85 441.84 L85.5 443.14 L86 444.43 L86.5 445.7 L87 446.96 L87.5 448.21 L88 449.44 L88.5 450.65 L89 451.85 L89.5 453.02 L90 454.18 L90.5 455.32 L91 456.43 L91.5 457.53 L92 458.6 L92.5 459.64 L93 460.66 L93.5 461.66 L94 462.62 L94.5 463.56 L95 464.47 L95.5 465.36 L96 466.21 L96.5 467.03 L97 467.83 L97.5 468.59 L98 469.32 L98.5 470.02 L99 470.69 L99.5 471.33 L100 471.94 L100.5 472.52 L101 473.07 L101.5 473.6 L102 474.09 L102.5 474.56 L103 475 L103.5 475.42 L104 475.81 L104.5 476.18 L105 476.52 L105.5 476.85 L106 477.15 L106.5 477.43 L107 477.7 L107.5 477.94 L108 478.17 L108.5 478.39 L109 478.59 L109.5 478.77 L110 478.95 L110.5 479.11 L111 479.25 L111.5 479.39 L112 479.52 L112.5 479.64 L113 479.75 L113.5 479.85 L114 479.94 L114.5 480.03 L115 480.11 L115.5 480.18 L116 480.25 L116.5 480.31 L117 480.37 L117.5 480.42 L118 480.47 L118.5 480.52 L119 480.56 L119.1 480.57 L121.1 480.7 L123.1 480.8 L125.1 480.87 L127.1 480.92 L129.1 480.96 L131.1 480.98 L133.1 481 L135.1 481.02 L137.1 481.03 L139.1 481.04 L141.1 481.04 L143.1 481.05 L145.1 481.05 L147.1 481.05 L149.1 481.06 L151.1 481.06 L153.1 481.06 L155.1 481.06 L157.1 481.06 L159.1 481.06 L161.1 481.07 L163.1 481.07 L165.1 481.07 L167.1 481.07 L169.1 481.07 L171.1 481.07 L173.1 481.07 L175.1 481.08 L177.1 481.08 L179.1 481.08 L181.1 481.08 L183.1 481.08 L185.1 481.08 L187.1 481.08 L189.1 481.09 L191.1 481.09 L193.1 481.09 L195.1 481.09 L197.1 481.09 L199.1 481.09 L201.1 481.09 L203.1 481.09 L205.1 481.1 L207.1 481.1 L209.1 481.1 L211.1 481.1 L213.1 481.1 L215.1 481.1 L217.1 481.1 L219.1 481.11 L221.1 481.11 L223.1 481.11 L225.1 481.11 L227.1 481.11 L229.1 481.11 L231.1 481.11 L233.1 481.11 L235.1 481.12 L237.1 481.12 L239.1 481.12 L241.1 481.12 L243.1 481.12 L245.1 481.12 L247.1 481.12 L249.1 481.12 L251.1 481.13 L253.1 481.13 L255.1 481.13 L257.1 481.13 L258.3 481.13" stroke="#2b7631" stroke-width="1.25" fill="none" stroke-linejoin="round"/>
<circle cx="80.3" cy="420.8" r="1.3" fill="#24602a"/>
<circle cx="80.8" cy="436.4" r="1.3" fill="#24602a"/>
<circle cx="82" cy="440" r="1.3" fill="#24602a"/>
<circle cx="87.6" cy="437" r="1.3" fill="#24602a"/>
<circle cx="97.8" cy="473.6" r="1.3" fill="#24602a"/>
<circle cx="121" cy="474.2" r="1.3" fill="#24602a"/>
<circle cx="140" cy="490.5" r="1.3" fill="#24602a"/>
<circle cx="177.7" cy="499.6" r="1.3" fill="#24602a"/>
<circle cx="197.7" cy="474.9" r="1.3" fill="#24602a"/>
<circle cx="217.6" cy="478.5" r="1.3" fill="#24602a"/>
<circle cx="257.8" cy="467.6" r="1.3" fill="#24602a"/>
<path d="M328.4 526 L328.8 472.07 L329.3 472.11 L329.8 472.16 L330.3 472.2 L330.8 472.25 L331.3 472.29 L331.8 472.33 L332.3 472.38 L332.8 472.42 L333.3 472.47 L333.8 472.51 L334.3 472.55 L334.8 472.6 L335.3 472.64 L335.8 472.69 L336.3 472.73 L336.8 472.77 L337.3 472.82 L337.8 472.86 L338.3 472.9 L338.8 472.95 L339.3 472.99 L339.8 473.04 L340.3 473.08 L340.8 473.12 L341.3 473.17 L341.8 473.21 L342.3 473.25 L342.8 473.3 L343.3 473.34 L343.8 473.39 L344.3 473.43 L344.8 473.47 L345.3 473.52 L345.8 473.56 L346.3 473.6 L346.8 473.65 L347.3 473.69 L347.8 473.74 L348.3 473.78 L348.8 473.82 L349.3 473.87 L349.8 473.91 L350.3 473.95 L350.8 474 L351.3 474.04 L351.8 474.08 L352.3 474.13 L352.8 474.17 L353.3 474.22 L353.8 474.26 L354.3 474.3 L354.8 474.35 L355.3 474.39 L355.8 474.43 L356.3 474.48 L356.8 474.52 L357.3 474.56 L357.8 474.61 L358.3 474.65 L358.8 474.7 L359.3 474.74 L359.8 474.78 L360.3 474.83 L360.8 474.87 L361.3 474.91 L361.8 474.96 L362.3 475 L362.8 475.04 L363.3 475.09 L363.8 475.13 L364.3 475.17 L364.8 475.22 L365.3 475.26 L365.8 475.3 L366.3 475.35 L366.8 475.39 L367.3 475.43 L367.8 475.48 L368.3 475.52 L368.4 475.53 L370.4 475.7 L372.4 475.88 L374.4 476.05 L376.4 476.22 L378.4 476.4 L380.4 476.57 L382.4 476.74 L384.4 476.92 L386.4 477.09 L388.4 477.26 L390.4 477.43 L392.4 477.61 L394.4 477.78 L396.4 477.95 L398.4 478.12 L400.4 478.3 L402.4 478.47 L404.4 478.64 L406.4 478.81 L408.4 478.98 L410.4 479.15 L412.4 479.32 L414.4 479.5 L416.4 479.67 L418.4 479.84 L420.4 480.01 L422.4 480.18 L424.4 480.35 L426.4 480.52 L428.4 480.69 L430.4 480.86 L432.4 481.03 L434.4 481.2 L436.4 481.37 L438.4 481.54 L440.4 481.71 L442.4 481.88 L444.4 482.04 L446.4 482.21 L448.4 482.38 L450.4 482.55 L452.4 482.72 L454.4 482.89 L456.4 483.05 L458.4 483.22 L460.4 483.39 L462.4 483.56 L464.4 483.72 L466.4 483.89 L468.4 484.06 L470.4 484.22 L472.4 484.39 L474.4 484.56 L476.4 484.72 L478.4 484.89 L480.4 485.06 L482.4 485.22 L484.4 485.39 L486.4 485.55 L488.4 485.72 L490.4 485.88 L492.4 486.05 L494.4 486.21 L496.4 486.38 L498.4 486.54 L500.4 486.71 L502.4 486.87 L504.4 487.03 L506.4 487.2 L507.6 487.29" stroke="#0a0a0a" stroke-width="2.2" fill="none" stroke-linejoin="round"/>
<circle cx="328.4" cy="526" r="2.4" fill="#0a0a0a"/>
<circle cx="329" cy="452.3" r="2.4" fill="#0a0a0a"/>
<circle cx="330.2" cy="461.6" r="2.4" fill="#0a0a0a"/>
<circle cx="331.8" cy="466.3" r="2.4" fill="#0a0a0a"/>
<circle cx="337" cy="467.4" r="2.4" fill="#0a0a0a"/>
<circle cx="330.2" cy="471" r="2.4" fill="#0a0a0a"/>
<circle cx="347" cy="481" r="2.4" fill="#0a0a0a"/>
<circle cx="370.6" cy="463.8" r="2.4" fill="#0a0a0a"/>
<circle cx="387.1" cy="497.6" r="2.4" fill="#0a0a0a"/>
<circle cx="427.1" cy="479.6" r="2.4" fill="#0a0a0a"/>
<circle cx="447.7" cy="479.9" r="2.4" fill="#0a0a0a"/>
<circle cx="467.1" cy="489.9" r="2.4" fill="#0a0a0a"/>
<circle cx="507.7" cy="480.4" r="2.4" fill="#0a0a0a"/>
<path d="M328.4 526 L329.2 437.96 L329.7 439.19 L330.2 440.41 L330.7 441.62 L331.2 442.81 L331.7 444 L332.2 445.16 L332.7 446.32 L333.2 447.45 L333.7 448.57 L334.2 449.67 L334.7 450.76 L335.2 451.82 L335.7 452.86 L336.2 453.89 L336.7 454.89 L337.2 455.86 L337.7 456.82 L338.2 457.75 L338.7 458.65 L339.2 459.53 L339.7 460.39 L340.2 461.21 L340.7 462.01 L341.2 462.78 L341.7 463.53 L342.2 464.25 L342.7 464.94 L343.2 465.6 L343.7 466.23 L344.2 466.84 L344.7 467.42 L345.2 467.98 L345.7 468.5 L346.2 469 L346.7 469.48 L347.2 469.93 L347.7 470.36 L348.2 470.76 L348.7 471.14 L349.2 471.51 L349.7 471.84 L350.2 472.16 L350.7 472.46 L351.2 472.75 L351.7 473.01 L352.2 473.26 L352.7 473.49 L353.2 473.71 L353.7 473.91 L354.2 474.1 L354.7 474.28 L355.2 474.45 L355.7 474.6 L356.2 474.75 L356.7 474.88 L357.2 475.01 L357.7 475.12 L358.2 475.23 L358.7 475.33 L359.2 475.43 L359.7 475.51 L360.2 475.59 L360.7 475.67 L361.2 475.74 L361.7 475.81 L362.2 475.87 L362.7 475.92 L363.2 475.98 L363.7 476.03 L364.2 476.07 L364.7 476.11 L365.2 476.15 L365.7 476.19 L366.2 476.23 L366.7 476.26 L367.2 476.29 L367.7 476.31 L368.2 476.34 L368.4 476.35 L370.4 476.44 L372.4 476.5 L374.4 476.56 L376.4 476.6 L378.4 476.63 L380.4 476.66 L382.4 476.68 L384.4 476.71 L386.4 476.73 L388.4 476.74 L390.4 476.76 L392.4 476.78 L394.4 476.79 L396.4 476.81 L398.4 476.82 L400.4 476.84 L402.4 476.85 L404.4 476.87 L406.4 476.88 L408.4 476.89 L410.4 476.91 L412.4 476.92 L414.4 476.94 L416.4 476.95 L418.4 476.97 L420.4 476.98 L422.4 476.99 L424.4 477.01 L426.4 477.02 L428.4 477.04 L430.4 477.05 L432.4 477.06 L434.4 477.08 L436.4 477.09 L438.4 477.11 L440.4 477.12 L442.4 477.13 L444.4 477.15 L446.4 477.16 L448.4 477.18 L450.4 477.19 L452.4 477.2 L454.4 477.22 L456.4 477.23 L458.4 477.25 L460.4 477.26 L462.4 477.27 L464.4 477.29 L466.4 477.3 L468.4 477.32 L470.4 477.33 L472.4 477.34 L474.4 477.36 L476.4 477.37 L478.4 477.39 L480.4 477.4 L482.4 477.41 L484.4 477.43 L486.4 477.44 L488.4 477.46 L490.4 477.47 L492.4 477.48 L494.4 477.5 L496.4 477.51 L498.4 477.53 L500.4 477.54 L502.4 477.55 L504.4 477.57 L506.4 477.58 L507.6 477.59" stroke="#2b7631" stroke-width="1.25" fill="none" stroke-linejoin="round"/>
<circle cx="329" cy="432.1" r="1.3" fill="#24602a"/>
<circle cx="329.4" cy="438.1" r="1.3" fill="#24602a"/>
<circle cx="329.7" cy="445.4" r="1.3" fill="#24602a"/>
<circle cx="337" cy="448.2" r="1.3" fill="#24602a"/>
<circle cx="370.6" cy="466.8" r="1.3" fill="#24602a"/>
<circle cx="387.2" cy="498.8" r="1.3" fill="#24602a"/>
<circle cx="427" cy="478.5" r="1.3" fill="#24602a"/>
<circle cx="447.5" cy="479.5" r="1.3" fill="#24602a"/>
<circle cx="467.1" cy="468.2" r="1.3" fill="#24602a"/>
<circle cx="507.7" cy="469.2" r="1.3" fill="#24602a"/>
<path d="M145 229.8h15.2" stroke="#1414d6" stroke-width="1.9"/>
<circle cx="152.6" cy="229.8" r="2.4" fill="#1414d6"/>
<text x="168.3" y="233.8">CD4 Naïve</text>
<path d="M118.6 246.3h15.2" stroke="#c81a30" stroke-width="1.5"/>
<circle cx="126.2" cy="246.3" r="1.3" fill="#c81a30"/>
<text x="142.1" y="250.3">CD4 Central Memory</text>
<path d="M117.2 409.7h15.2" stroke="#0a0a0a" stroke-width="2.1"/>
<circle cx="124.8" cy="409.7" r="2.4" fill="#0a0a0a"/>
<text x="140.5" y="413.7">CD4 Effector Memory</text>
<path d="M136.3 427h15.2" stroke="#2b7631" stroke-width="1.5"/>
<circle cx="143.9" cy="427" r="1.3" fill="#2b7631"/>
<text x="159.1" y="431">CD4 Activated</text>
<path d="M395.4 229.8h15.2" stroke="#1414d6" stroke-width="1.9"/>
<circle cx="403" cy="229.8" r="2.4" fill="#1414d6"/>
<text x="418.7" y="233.8">CD8 Naïve</text>
<path d="M369 246.3h15.2" stroke="#c81a30" stroke-width="1.5"/>
<circle cx="376.6" cy="246.3" r="1.3" fill="#c81a30"/>
<text x="392.5" y="250.3">CD8 Central Memory</text>
<path d="M367.6 409.7h15.2" stroke="#0a0a0a" stroke-width="2.1"/>
<circle cx="375.2" cy="409.7" r="2.4" fill="#0a0a0a"/>
<text x="390.9" y="413.7">CD8 Effector Memory</text>
<path d="M386.7 427h15.2" stroke="#2b7631" stroke-width="1.5"/>
<circle cx="394.3" cy="427" r="1.3" fill="#2b7631"/>
<text x="409.5" y="431">CD8 Activated</text>
</svg>
</body></html>
